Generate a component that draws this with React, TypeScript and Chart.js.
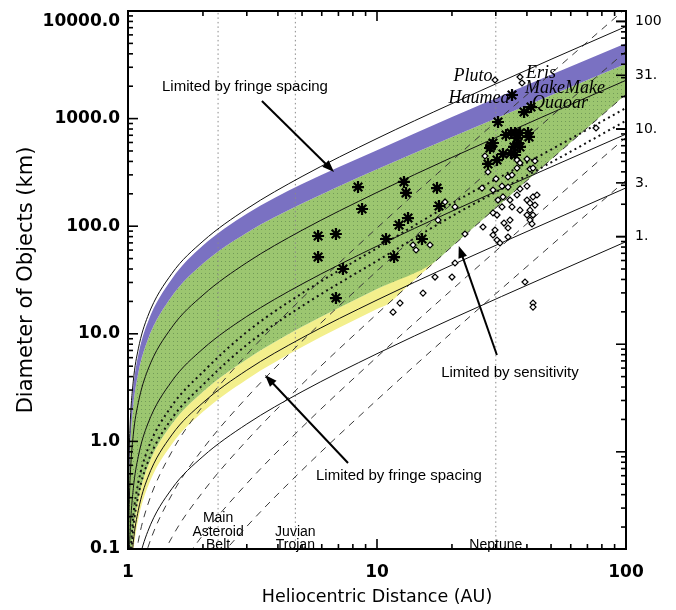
import { useEffect, useRef } from 'react';
import { Chart, registerables } from 'chart.js';

Chart.register(...registerables);

// ---------------- tick labels ----------------
const X_TICKS = [1, 10, 100];
const X_TICK_LABELS = ['1', '10', '100'];
const Y_TICKS = [0.1, 1, 10, 100, 1000, 10000];
const Y_TICK_LABELS = ['0.1', '1.0', '10.0', '100.0', '1000.0', '10000.0'];
const RIGHT_TICKS = [1, 3.16, 10, 31.6, 100];
const RIGHT_TICK_LABELS = ['1.', '3.', '10.', '31.', '100'];

// ---------------- angular size lines (solid) : distance AU -> diameter km ----------------
const sizeDist = [1.002, 1.005, 1.01, 1.02, 1.05, 1.1, 1.2, 1.5, 2, 3, 5, 10, 20, 50, 100];
const size100 = [0.145, 0.363, 0.725, 1.45, 3.63, 7.25, 14.5, 36.3, 72.5, 145, 290, 653, 1378, 3553, 7178];
const size31 = [0.046, 0.115, 0.229, 0.459, 1.15, 2.29, 4.59, 11.5, 22.9, 45.9, 91.7, 206, 436, 1124, 2270];
const size10 = [0.0145, 0.0363, 0.0725, 0.145, 0.363, 0.725, 1.45, 3.63, 7.25, 14.5, 29, 65.3, 138, 355, 718];
const size3 = [0.0046, 0.0115, 0.0229, 0.0459, 0.115, 0.229, 0.459, 1.15, 2.29, 4.59, 9.17, 20.6, 43.6, 112, 227];
const size1 = [0.00145, 0.0036, 0.0073, 0.0145, 0.0363, 0.0725, 0.145, 0.363, 0.725, 1.45, 2.9, 6.53, 13.8, 35.5, 71.8];

// ---------------- sensitivity lines (dashed) ----------------
const magDist = [1.02, 1.05, 1.1, 1.2, 1.5, 2, 3, 5, 10, 20, 50, 100];
const magA = [0.0218, 0.0562, 0.118, 0.257, 0.803, 2.14, 6.42, 21.4, 96.3, 407, 2622, 10593];
const magB = [0.0087, 0.0224, 0.047, 0.102, 0.32, 0.854, 2.56, 8.54, 38.4, 162, 1046, 4227];
const magC = [0.0035, 0.0089, 0.0187, 0.041, 0.128, 0.34, 1.02, 3.4, 15.3, 64.6, 417, 1683];
const magD = [0.00138, 0.00355, 0.00745, 0.0162, 0.0508, 0.135, 0.406, 1.354, 6.09, 25.7, 166, 670];
const magE = [0.00055, 0.0014, 0.003, 0.0065, 0.02, 0.054, 0.162, 0.54, 2.43, 10.3, 66.2, 267];

// ---------------- thermal lines (dotted) ----------------
const thermDist = [1.02, 1.05, 1.1, 1.2, 1.5, 2, 3, 5, 10, 20, 50, 100];
const thermA = [0.08, 0.203, 0.413, 0.841, 2.14, 4.42, 10.4, 23.8, 62.6, 163, 515, 1256];
const thermB = [0.061, 0.154, 0.314, 0.639, 1.63, 3.36, 7.9, 18.1, 47.6, 124, 391, 955];

// ---------------- bands ----------------
const bandDist = [1.002, 1.005, 1.01, 1.02, 1.03, 1.05, 1.1, 1.2, 1.5, 2, 3, 5, 10, 20, 50, 100];
const purpleTop = [0.1305, 0.326, 0.6525, 1.305, 1.958, 3.226, 6.38, 12.76, 32.3, 66.0, 130.5, 246.5, 509, 1033, 2558, 5024];
const greenTop = [0.087, 0.2175, 0.435, 0.87, 1.305, 2.175, 4.35, 8.77, 22.3, 44.95, 87, 162.4, 339, 675, 1652, 3230];
const greenBottomDist = [1.002, 1.005, 1.01, 1.02, 1.03, 1.05, 1.1, 1.2, 1.5, 2, 3, 5, 10, 17.06, 20, 50, 100];
const greenBottom = [0.0058, 0.0145, 0.029, 0.058, 0.087, 0.145, 0.29, 0.58, 1.45, 2.9, 5.8, 11.6, 26.1, 46.6, 64.6, 417, 1683];
const yellowTopDist = [1.002, 1.005, 1.01, 1.02, 1.03, 1.05, 1.1, 1.2, 1.5, 2, 3, 5, 10, 17.06];
const yellowTop = [0.0058, 0.0145, 0.029, 0.058, 0.087, 0.145, 0.29, 0.58, 1.45, 2.9, 5.8, 11.6, 26.1, 46.6];
const yellowBottomDist = [1.002, 1.005, 1.01, 1.02, 1.03, 1.05, 1.1, 1.2, 1.5, 2, 3, 5, 10, 11.09, 13, 15, 17.06];
const yellowBottom = [0.0038, 0.0094, 0.0189, 0.0377, 0.0566, 0.0943, 0.189, 0.377, 0.943, 1.885, 3.77, 7.54, 16.97, 19.0, 26.5, 35.7, 46.6];

// ---------------- region markers ----------------
const regionDist = [2.3, 4.7, 30];

// ---------------- objects ----------------
const starDist = [5.8, 5.8, 6.84, 7.3, 6.84, 8.39, 8.71, 10.87, 11.71, 12.26, 12.83, 13.08, 13.32, 15.16, 17.42, 17.74, 30.62, 32.97, 34.53, 35.84, 36.5, 36.85, 35.5, 37.53, 40.41, 40.78, 28.7, 28.43, 32.06, 30.34, 34.53, 27.91, 37.53, 29.23, 35.84, 34.85, 38.94, 41.55];
const starDiam = [81.1, 51.7, 84.6, 40.0, 21.5, 231, 144.5, 76.0, 51.7, 102.6, 258, 204, 119, 76.0, 226, 154, 930, 704, 735, 735, 660, 593, 545, 735, 735, 675, 556, 533, 469, 412, 479, 379, 545, 593, 459, 1657, 1151, 1281];
const diamDist = [29.78, 37.53, 38.23, 36.5, 37.53, 40.04, 43.1, 41.17, 42.32, 36.5, 33.59, 34.85, 30.06, 26.41, 29.23, 31.77, 33.59, 37.53, 40.04, 36.5, 32.06, 30.62, 34.21, 31.77, 34.85, 37.53, 40.04, 42.32, 43.91, 41.17, 43.1, 41.17, 40.04, 42.32, 41.17, 41.93, 29.23, 30.34, 26.65, 29.78, 33.59, 29.23, 30.34, 31.19, 33.59, 34.21, 32.36, 22.56, 20.57, 18.76, 20.57, 20.01, 17.1, 15.3, 39.3, 42.32, 42.32, 75.8, 13.95, 14.35, 16.33, 17.58, 12.37, 11.6, 27.15, 27.91];
const diamDiam = [2284, 2436, 2142, 412, 387, 421, 404, 340, 347, 347, 287, 299, 275, 226, 217, 236, 231, 222, 236, 195, 187, 175, 175, 151, 151, 141, 175, 187, 195, 164, 157, 141, 127, 127, 114, 105, 133, 127, 98.3, 92.2, 96.2, 82.8, 74.4, 69.8, 79.4, 114, 107, 84.6, 151, 168, 45.5, 33.7, 33.7, 23.9, 30.3, 19.3, 17.7, 818, 66.9, 60.1, 66.9, 114, 19.3, 15.9, 449, 319];

// ---------------- styling / annotation constants ----------------
const SANS = '"Liberation Sans", Arial, sans-serif';
const DEJAVU = '"DejaVu Sans", sans-serif';
const SERIF = '"Liberation Serif", "Times New Roman", serif';

const NOTES = [
  { text: 'Limited by fringe spacing', r: 2.95, d: 1968 },
  { text: 'Limited by sensitivity', r: 34.2, d: 4.32 },
  { text: 'Limited by fringe spacing', r: 12.25, d: 0.477 },
];
const ARROWS = [
  { from: [3.45, 1458], to: [6.72, 319] },
  { from: [30.3, 6.35], to: [21.3, 65.5] },
  { from: [7.65, 0.63], to: [3.55, 4.14] },
];
const NAMES = [
  { text: 'Pluto', r: 24.3, d: 2489 },
  { text: 'Eris', r: 45.6, d: 2655 },
  { text: 'MakeMake', r: 56.9, d: 1924 },
  { text: 'Haumea', r: 25.7, d: 1553 },
  { text: 'Quaoar', r: 54.3, d: 1397 },
];
const REGION_LABELS = [
  { lines: ['Main', 'Asteroid', 'Belt'], r: 2.3, d: [0.192, 0.142, 0.109] },
  { lines: ['Juvian', 'Trojan'], r: 4.7, d: [0.142, 0.109] },
  { lines: ['Neptune'], r: 30, d: [0.109] },
];

const pts = (xs: number[], ys: number[]) => xs.map((x, i) => ({ x, y: ys[i] }));

const overlayPlugin = {
  id: 'overlay',
  afterDatasetsDraw(chart: any) {
    const { ctx, scales } = chart;
    const X = (v: number) => scales.x.getPixelForValue(v);
    const Y = (v: number) => scales.y.getPixelForValue(v);
    ctx.save();
    ctx.fillStyle = '#000';
    ctx.textAlign = 'center';
    ctx.textBaseline = 'middle';
    ctx.font = `15px ${SANS}`;
    NOTES.forEach((n) => ctx.fillText(n.text, X(n.r), Y(n.d)));
    ctx.strokeStyle = '#000';
    ctx.lineWidth = 2;
    ARROWS.forEach((a) => {
      const x1 = X(a.from[0]), y1 = Y(a.from[1]), x2 = X(a.to[0]), y2 = Y(a.to[1]);
      const ang = Math.atan2(y2 - y1, x2 - x1);
      const L = 12, W = 4.5;
      ctx.beginPath();
      ctx.moveTo(x1, y1);
      ctx.lineTo(x2 - (L - 2) * Math.cos(ang), y2 - (L - 2) * Math.sin(ang));
      ctx.stroke();
      ctx.beginPath();
      ctx.moveTo(x2, y2);
      ctx.lineTo(x2 - L * Math.cos(ang) + W * Math.sin(ang), y2 - L * Math.sin(ang) - W * Math.cos(ang));
      ctx.lineTo(x2 - L * Math.cos(ang) - W * Math.sin(ang), y2 - L * Math.sin(ang) + W * Math.cos(ang));
      ctx.closePath();
      ctx.fill();
    });
    ctx.font = `italic 18px ${SERIF}`;
    NAMES.forEach((n) => ctx.fillText(n.text, X(n.r), Y(n.d)));
    ctx.font = `14px ${SANS}`;
    REGION_LABELS.forEach((g) => g.lines.forEach((t, i) => ctx.fillText(t, X(g.r), Y(g.d[i]))));
    ctx.restore();
  },
  afterDraw(chart: any) {
    const { ctx, chartArea: a, scales } = chart;
    const X = (v: number) => scales.x.getPixelForValue(v);
    const Y = (v: number) => scales.y.getPixelForValue(v);
    const Y2 = (v: number) => scales.y2.getPixelForValue(v);
    const seg = (x1: number, y1: number, x2: number, y2: number) => {
      ctx.beginPath();
      ctx.moveTo(x1, y1);
      ctx.lineTo(x2, y2);
      ctx.stroke();
    };
    ctx.save();
    ctx.strokeStyle = '#000';
    ctx.lineWidth = 1.6;
    for (let e = 0; e <= 2; e++) {
      for (let k = 1; k <= 9; k++) {
        const v = k * Math.pow(10, e);
        if (v > 100) break;
        const px = X(v);
        const len = k === 1 ? 10 : 5;
        seg(px, a.bottom, px, a.bottom - len);
        seg(px, a.top, px, a.top + len);
      }
    }
    for (let e = -1; e <= 4; e++) {
      for (let k = 1; k <= 9; k++) {
        const v = k * Math.pow(10, e);
        if (v > 10000) break;
        const py = Y(v);
        seg(a.left, py, a.left + (k === 1 ? 10 : 5), py);
      }
    }
    for (let e = -3; e <= 2; e++) {
      for (let k = 1; k <= 9; k++) {
        const v = k * Math.pow(10, e);
        if (v < 0.00125 || v > 125) continue;
        const py = Y2(v);
        seg(a.right, py, a.right - (k === 1 ? 10 : 5), py);
      }
    }
    RIGHT_TICKS.forEach((v) => seg(a.right, Y2(v), a.right - 10, Y2(v)));
    ctx.lineWidth = 2;
    ctx.strokeRect(a.left, a.top, a.right - a.left, a.bottom - a.top);
    ctx.restore();
  },
};

export default function App() {
  const ref = useRef<HTMLCanvasElement>(null);
  useEffect(() => {
    const canvas = ref.current!;
    const c2d = canvas.getContext('2d')!;
    const pc = document.createElement('canvas');
    pc.width = 4;
    pc.height = 4;
    const p = pc.getContext('2d')!;
    p.fillStyle = '#9cc670';
    p.fillRect(0, 0, 4, 4);
    p.fillStyle = 'rgba(80,120,70,0.55)';
    p.fillRect(1, 1, 1, 1);
    const greenPattern = c2d.createPattern(pc, 'repeat')!;

    const line = (data: any[], color: string, width: number, dash: number[] = [], order = 1) => ({
      type: 'line' as const,
      data,
      borderColor: color,
      borderWidth: width,
      borderDash: dash,
      backgroundColor: 'transparent',
      pointRadius: 0,
      fill: false,
      cubicInterpolationMode: 'monotone' as const,
      order,
    });
    const edge = (data: any[], fill: any, bg: any) => ({
      type: 'line' as const,
      data,
      borderWidth: 0,
      borderColor: 'transparent',
      backgroundColor: bg,
      pointRadius: 0,
      fill,
      cubicInterpolationMode: 'monotone' as const,
      order: 5,
    });

    const datasets: any[] = [];
    datasets.push(edge(pts(bandDist, purpleTop), 1, '#7a71c2'));
    datasets.push(edge(pts(bandDist, greenTop), 2, greenPattern));
    datasets.push(edge(pts(greenBottomDist, greenBottom), false, 'transparent'));
    datasets.push(edge(pts(yellowTopDist, yellowTop), 4, '#f3ef8c'));
    datasets.push(edge(pts(yellowBottomDist, yellowBottom), false, 'transparent'));
    regionDist.forEach((r) =>
      datasets.push({ ...line([{ x: r, y: 0.05 }, { x: r, y: 20000 }], '#8a8a8a', 1, [1.5, 3], 3), cubicInterpolationMode: 'default' })
    );
    [size100, size31, size10, size3, size1].forEach((s) => datasets.push(line(pts(sizeDist, s), '#111', 1)));
    [magA, magB, magC, magD, magE].forEach((s) => datasets.push(line(pts(magDist, s), '#3a3a3a', 1, [7, 6])));
    [thermA, thermB].forEach((s) => datasets.push(line(pts(thermDist, s), '#111', 2, [2, 3.5])));
    datasets.push({
      type: 'scatter',
      data: pts(diamDist, diamDiam),
      pointStyle: 'rectRot',
      pointRadius: 3,
      borderColor: '#000',
      borderWidth: 1.2,
      backgroundColor: '#fff',
      order: 0,
    });
    datasets.push({
      type: 'scatter',
      data: pts(starDist, starDiam),
      pointStyle: 'star',
      pointRadius: 6,
      borderColor: '#000',
      borderWidth: 2.2,
      backgroundColor: '#000',
      order: 0,
    });

    const noPadY = (w: number) => (s: any) => {
      s.width = w;
      s.paddingTop = 0;
      s.paddingBottom = 0;
    };

    const chart = new Chart(canvas, {
      type: 'line',
      data: { datasets },
      options: {
        responsive: false,
        animation: false,
        events: [],
        layout: { padding: { top: 11, left: 0, right: 0, bottom: 0 } },
        plugins: { legend: { display: false }, tooltip: { enabled: false }, colors: { enabled: false } as any },
        scales: {
          x: {
            type: 'logarithmic',
            min: 1,
            max: 100,
            position: 'bottom',
            grid: { display: false, drawTicks: false },
            border: { display: false },
            afterBuildTicks: (s: any) => {
              s.ticks = X_TICKS.map((v) => ({ value: v }));
            },
            afterFit: (s: any) => {
              s.height = 61;
              s.paddingLeft = 0;
              s.paddingRight = 0;
            },
            ticks: {
              autoSkip: false,
              maxRotation: 0,
              padding: 13,
              color: '#000',
              font: { family: DEJAVU, size: 17, weight: 'bold' },
              callback: (_v: any, i: number) => X_TICK_LABELS[i],
            },
            title: {
              display: true,
              text: 'Heliocentric Distance (AU)',
              color: '#000',
              font: { family: DEJAVU, size: 17.5 },
              padding: { top: 0, bottom: 2.5 },
            },
          },
          y: {
            type: 'logarithmic',
            min: 0.1,
            max: 10000,
            position: 'left',
            grid: { display: false, drawTicks: false },
            border: { display: false },
            afterBuildTicks: (s: any) => {
              s.ticks = Y_TICKS.map((v) => ({ value: v }));
            },
            afterFit: noPadY(128),
            ticks: {
              autoSkip: false,
              padding: 8,
              color: '#000',
              font: { family: DEJAVU, size: 17, weight: 'bold' },
              callback: (_v: any, i: number) => (i === Y_TICKS.length - 1 ? ['', Y_TICK_LABELS[i]] : Y_TICK_LABELS[i]),
            },
            title: {
              display: true,
              text: 'Diameter of Objects (km)',
              color: '#000',
              font: { family: DEJAVU, size: 21 },
              padding: { top: 14, bottom: 0 },
            },
          },
          y2: {
            type: 'logarithmic',
            min: 0.00125,
            max: 125,
            position: 'right',
            grid: { display: false, drawTicks: false },
            border: { display: false },
            afterBuildTicks: (s: any) => {
              s.ticks = RIGHT_TICKS.map((v) => ({ value: v }));
            },
            afterFit: noPadY(50),
            ticks: {
              autoSkip: false,
              padding: 9,
              color: '#000',
              font: { family: DEJAVU, size: 14 },
              callback: (_v: any, i: number) => RIGHT_TICK_LABELS[i],
            },
          },
        },
      } as any,
      plugins: [overlayPlugin],
    });
    return () => chart.destroy();
  }, []);
  return (
    <div style={{ position: 'absolute', left: 0, top: 0, width: 676, height: 610, background: '#fff' }}>
      <canvas ref={ref} width={676} height={610} style={{ display: 'block', width: 676, height: 610 }} />
    </div>
  );
}
